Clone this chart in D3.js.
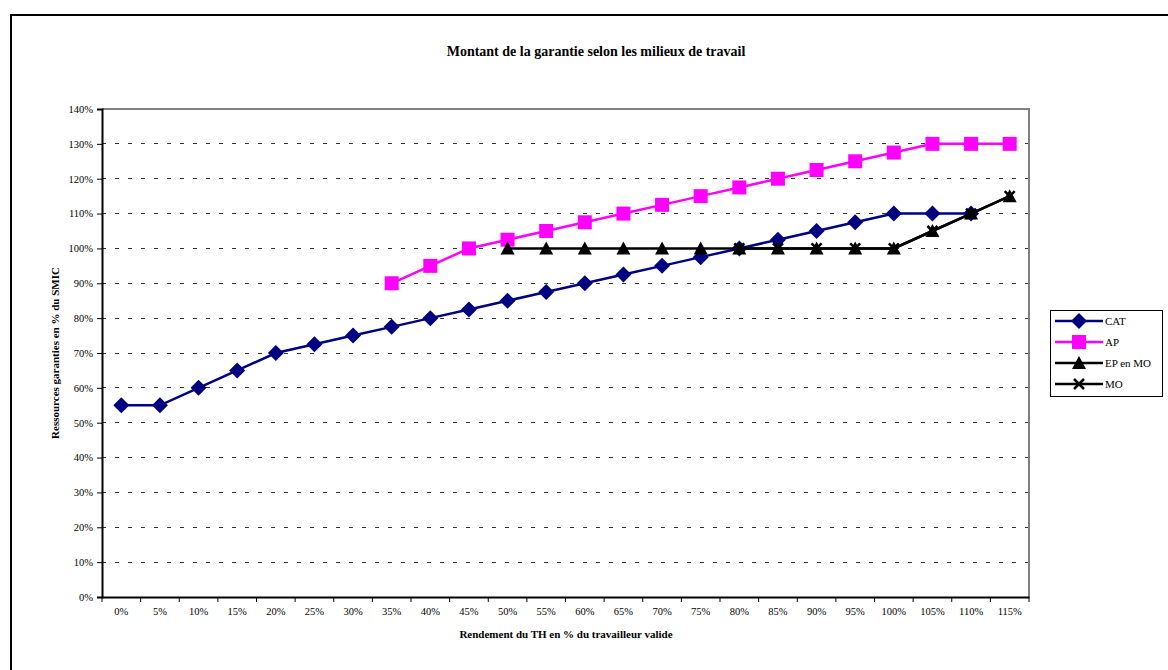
<!DOCTYPE html>
<html>
<head>
<meta charset="utf-8">
<script src="https://cdn.jsdelivr.net/npm/d3@7"></script>
<style>
  html, body { margin: 0; padding: 0; background: #fff; }
  svg { display: block; }
  svg text { font-family: "Liberation Serif", "Times New Roman", "DejaVu Serif", serif; fill: #000; }
</style>
</head>
<body>
<svg id="chart" width="1168" height="670"></svg>
<script>
// Rendement du travailleur handicapé (% du travailleur valide)
const categories = ["0%","5%","10%","15%","20%","25%","30%","35%","40%","45%","50%","55%","60%","65%","70%","75%","80%","85%","90%","95%","100%","105%","110%","115%"];

// Ressources garanties (% du SMIC); null = pas de valeur
const catValues = [55,55,60,65,70,72.5,75,77.5,80,82.5,85,87.5,90,92.5,95,97.5,100,102.5,105,107.5,110,110,110,null];
const apValues  = [null,null,null,null,null,null,null,90,95,100,102.5,105,107.5,110,112.5,115,117.5,120,122.5,125,127.5,130,130,130];
const epValues  = [null,null,null,null,null,null,null,null,null,null,100,100,100,100,100,100,100,100,100,100,100,105,110,115];
const moValues  = [null,null,null,null,null,null,null,null,null,null,null,null,null,null,null,null,100,100,100,100,100,105,110,115];

const yTicks = [0,10,20,30,40,50,60,70,80,90,100,110,120,130,140];

const series = [
  { name: "CAT",      values: catValues, color: "#000080", marker: "diamond" },
  { name: "AP",       values: apValues,  color: "#FF00FF", marker: "square" },
  { name: "EP en MO", values: epValues,  color: "#000000", marker: "triangle" },
  { name: "MO",       values: moValues,  color: "#000000", marker: "cross" }
];

const FONT = "Liberation Serif, Times New Roman, DejaVu Serif, serif";
const svg = d3.select("#chart").attr("font-family", FONT);
const plot = { left: 102, top: 109, right: 1029, bottom: 597 };

// Cadre extérieur
svg.append("rect")
  .attr("x", 11).attr("y", 15).attr("width", 1200).attr("height", 700)
  .attr("fill", "none").attr("stroke", "#000").attr("stroke-width", 2);

const x = d3.scaleBand().domain(categories).range([plot.left, plot.right]);
const y = d3.scaleLinear().domain([0, 140]).range([plot.bottom, plot.top]);
const cx = c => x(c) + x.bandwidth() / 2;

// Quadrillage horizontal en pointillés
svg.append("g")
  .selectAll("line")
  .data(yTicks.filter(t => t > 0 && t < 140))
  .join("line")
  .attr("x1", plot.left).attr("x2", plot.right)
  .attr("y1", d => y(d)).attr("y2", d => y(d))
  .attr("stroke", "#333").attr("stroke-width", 1)
  .attr("stroke-dasharray", "4,9")
  .attr("shape-rendering", "crispEdges");

// Bordure de la zone de tracé (haut et droite)
svg.append("path")
  .attr("d", `M${plot.left},${plot.top}H${plot.right}V${plot.bottom}`)
  .attr("fill", "none").attr("stroke", "#808080").attr("stroke-width", 2);

// Axe Y
const yAxis = svg.append("g")
  .attr("transform", `translate(${plot.left},0)`)
  .call(d3.axisLeft(y).tickValues(yTicks).tickFormat(d => d + "%").tickSize(5).tickPadding(4));
yAxis.attr("font-family", FONT);
yAxis.select(".domain").attr("stroke", "#000").attr("stroke-width", 2);
yAxis.selectAll(".tick line").attr("stroke", "#000");
yAxis.selectAll("text").attr("font-size", 10.5).attr("fill", "#000").attr("font-family", FONT);

// Axe X (graduations entre les catégories)
const xAxis = svg.append("g")
  .attr("transform", `translate(0,${plot.bottom})`)
  .call(d3.axisBottom(x).tickSize(0).tickPadding(11));
xAxis.attr("font-family", FONT);
xAxis.select(".domain").attr("stroke", "#000").attr("stroke-width", 2);
xAxis.selectAll("text").attr("font-size", 10.5).attr("fill", "#000").attr("font-family", FONT);
svg.append("g")
  .selectAll("line")
  .data(d3.range(categories.length + 1))
  .join("line")
  .attr("x1", i => plot.left + i * x.step()).attr("x2", i => plot.left + i * x.step())
  .attr("y1", plot.bottom).attr("y2", plot.bottom + 5)
  .attr("stroke", "#000").attr("stroke-width", 1);

// Symboles
function drawMarker(g, type, color, px, py) {
  if (type === "diamond") {
    g.append("path").attr("d", `M${px},${py-8}L${px+8},${py}L${px},${py+8}L${px-8},${py}Z`).attr("fill", color);
  } else if (type === "square") {
    g.append("rect").attr("x", px-7).attr("y", py-7).attr("width", 14).attr("height", 14).attr("fill", color);
  } else if (type === "triangle") {
    g.append("path").attr("d", `M${px},${py-7}L${px+7},${py+6}L${px-7},${py+6}Z`).attr("fill", color);
  } else if (type === "cross") {
    g.append("path").attr("d", `M${px-5},${py-5}L${px+5},${py+5}M${px+5},${py-5}L${px-5},${py+5}`)
      .attr("stroke", color).attr("stroke-width", 2.5).attr("fill", "none");
  }
}

const line = d3.line()
  .defined(d => d.v !== null)
  .x(d => cx(d.c))
  .y(d => y(d.v));

series.forEach(s => {
  const pts = categories.map((c, i) => ({ c, v: s.values[i] }));
  const g = svg.append("g");
  g.append("path").datum(pts).attr("d", line)
    .attr("fill", "none").attr("stroke", s.color).attr("stroke-width", 2.5);
  pts.filter(d => d.v !== null).forEach(d => drawMarker(g, s.marker, s.color, cx(d.c), y(d.v)));
});

// Titre
svg.append("text")
  .attr("x", 596).attr("y", 56).attr("text-anchor", "middle")
  .attr("font-size", 14).attr("font-weight", "bold").attr("font-family", FONT)
  .text("Montant de la garantie selon les milieux de travail");

// Titres des axes
svg.append("text")
  .attr("x", 566).attr("y", 638).attr("text-anchor", "middle")
  .attr("font-size", 11).attr("font-weight", "bold").attr("font-family", FONT)
  .text("Rendement du TH en % du travailleur valide");

svg.append("text")
  .attr("transform", `translate(59,${(plot.top + plot.bottom) / 2}) rotate(-90)`)
  .attr("text-anchor", "middle")
  .attr("font-size", 11).attr("font-weight", "bold").attr("font-family", FONT)
  .text("Ressources garanties en % du SMIC");

// Légende
const legend = svg.append("g");
legend.append("rect")
  .attr("x", 1050.5).attr("y", 310.5).attr("width", 112).attr("height", 86)
  .attr("fill", "#fff").attr("stroke", "#000").attr("stroke-width", 1);
series.forEach((s, i) => {
  const ly = 321 + i * 21;
  legend.append("line").attr("x1", 1055).attr("x2", 1103).attr("y1", ly).attr("y2", ly)
    .attr("stroke", s.color).attr("stroke-width", 2.5);
  drawMarker(legend, s.marker, s.color, 1079, ly);
  legend.append("text").attr("x", 1105).attr("y", ly + 4)
    .attr("font-size", 11).attr("font-family", FONT).text(s.name);
});
</script>
</body>
</html>
